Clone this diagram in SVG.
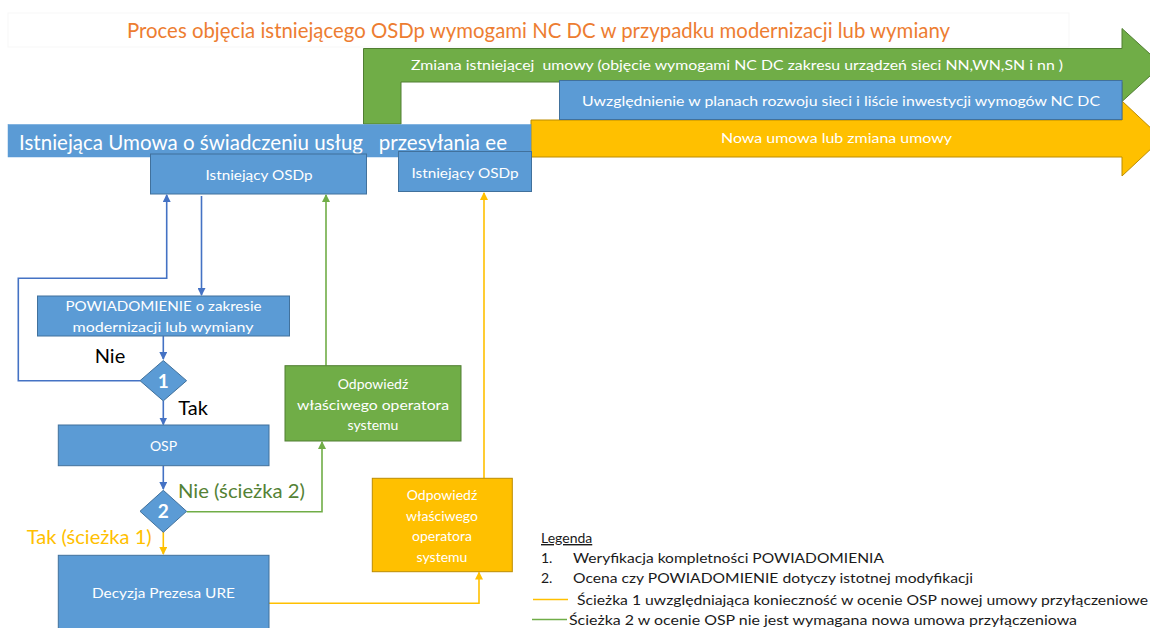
<svg xmlns="http://www.w3.org/2000/svg" width="1150" height="628" viewBox="0 0 1150 628">
<defs>
<style>
text{font-family:Lato,"Open Sans","Liberation Sans",sans-serif;}
.bl{fill:#5B9BD5;stroke:#41719C;stroke-width:1;}
.gr{fill:#70AD47;stroke:#507E32;stroke-width:1;}
.ye{fill:#FFC000;stroke:#BC8C00;stroke-width:1;}
.wt{fill:#FFFFFF;font-size:14px;text-anchor:middle;}
.cb{fill:none;stroke:#4472C4;stroke-width:1.6;}
.cg{fill:none;stroke:#70AD47;stroke-width:1.6;}
.cy{fill:none;stroke:#FFC000;stroke-width:1.6;}
.lg{fill:#1a1a1a;font-size:14px;}
.pre{white-space:pre;}
</style>
<marker id="ab" markerWidth="8" markerHeight="8" refX="7" refY="4" orient="auto" markerUnits="userSpaceOnUse"><path d="M0,0 L8,4 L0,8 z" fill="#4472C4"/></marker>
<marker id="ag" markerWidth="8" markerHeight="8" refX="7" refY="4" orient="auto" markerUnits="userSpaceOnUse"><path d="M0,0 L8,4 L0,8 z" fill="#70AD47"/></marker>
<marker id="ay" markerWidth="8" markerHeight="8" refX="7" refY="4" orient="auto" markerUnits="userSpaceOnUse"><path d="M0,0 L8,4 L0,8 z" fill="#FFC000"/></marker>
</defs>
<rect width="1150" height="628" fill="#FFFFFF"/>

<g id="title">
<rect x="8" y="13" width="1061" height="34" fill="#FFFFFF" stroke="#F7F7F7" stroke-width="1"/>
<text x="127" y="37.5" font-size="21" fill="#ED7D31" textLength="823" lengthAdjust="spacingAndGlyphs">Proces objęcia istniejącego OSDp wymogami NC DC w przypadku modernizacji lub wymiany</text>
</g>

<g id="green-arrow">
<path class="gr" d="M363.5,124 L363.5,48.5 L1122,48.5 L1122,28.5 L1162,65 L1122,101.5 L1122,82 L401,82 L401,124 Z"/>
<text class="wt pre" xml:space="preserve" x="737" y="70" font-size="14.5" textLength="652" lengthAdjust="spacingAndGlyphs">Zmiana istniejącej  umowy (objęcie wymogami NC DC zakresu urządzeń sieci NN,WN,SN i nn )</text>
</g>

<g id="yellow-arrow">
<path class="ye" d="M531,120 L1122,120 L1122,101 L1162,138.5 L1122,176 L1122,157 L531,157 Z"/>
<text class="wt" x="836.5" y="143" font-size="14.5" textLength="231" lengthAdjust="spacingAndGlyphs">Nowa umowa lub zmiana umowy</text>
</g>

<g id="plan-box">
<rect class="bl" x="559.5" y="80.5" width="562.5" height="39"/>
<text class="wt" x="841" y="106" font-size="14.5" textLength="518" lengthAdjust="spacingAndGlyphs">Uwzględnienie w planach rozwoju sieci i liście inwestycji wymogów NC DC</text>
</g>

<g id="contract-bar">
<rect x="8" y="124.5" width="523" height="32.5" fill="#5B9BD5" stroke="#5B9BD5" stroke-width="0.5"/>
<text class="pre" xml:space="preserve" x="19" y="150" font-size="22" fill="#FFFFFF" textLength="488" lengthAdjust="spacingAndGlyphs">Istniejąca Umowa o świadczeniu usług   przesyłania ee</text>
</g>

<g id="osdp1">
<rect class="bl" x="150.5" y="154" width="216" height="40"/>
<text class="wt" x="259" y="179.5" font-size="14.5" textLength="107" lengthAdjust="spacingAndGlyphs">Istniejący OSDp</text>
</g>

<g id="osdp2">
<rect class="bl" x="398.5" y="151.5" width="133" height="40"/>
<text class="wt" x="465" y="177.5" font-size="14.5" textLength="107" lengthAdjust="spacingAndGlyphs">Istniejący OSDp</text>
</g>

<g id="connectors">
<path class="cb" d="M201.5,196 L201.5,295" marker-end="url(#ab)"/>
<path class="cb" d="M163.3,336 L163.3,359" marker-end="url(#ab)"/>
<path class="cb" d="M140,380.7 L18.3,380.7 L18.3,278.3 L166.7,278.3 L166.7,195" marker-end="url(#ab)"/>
<path class="cb" d="M163.3,400.7 L163.3,424.5" marker-end="url(#ab)"/>
<path class="cb" d="M163.3,465.7 L163.3,489" marker-end="url(#ab)"/>
<path class="cg" d="M186.6,511.7 L322,511.7 L322,442" marker-end="url(#ag)"/>
<path class="cg" d="M326,365.7 L326,195" marker-end="url(#ag)"/>
<path class="cy" d="M163.3,532 L163.3,554" marker-end="url(#ay)"/>
<path class="cy" d="M269,603.3 L479,603.3 L479,572.5" marker-end="url(#ay)"/>
<path class="cy" d="M484,478.3 L484,193" marker-end="url(#ay)"/>
</g>

<g id="notification">
<rect class="bl" x="37.5" y="296" width="252" height="40"/>
<text class="wt" x="163.5" y="311" textLength="196" lengthAdjust="spacingAndGlyphs">POWIADOMIENIE o zakresie</text>
<text class="wt" x="163" y="332" textLength="181" lengthAdjust="spacingAndGlyphs">modernizacji lub wymiany</text>
</g>

<g id="decision1">
<path class="bl" d="M163.3,360.5 L186.6,380.7 L163.3,400.9 L140,380.7 Z"/>
<text x="163.3" y="387.5" font-size="19" font-weight="bold" fill="#FFFFFF" text-anchor="middle">1</text>
<text x="110" y="362.5" font-size="20" fill="#000000" text-anchor="middle">Nie</text>
<text x="193" y="415" font-size="20" fill="#000000" text-anchor="middle">Tak</text>
</g>

<g id="osp">
<rect class="bl" x="58.3" y="425" width="210.7" height="40.7"/>
<text class="wt" x="163.5" y="450.5">OSP</text>
</g>

<g id="decision2">
<path class="bl" d="M163.3,490.3 L186.6,511.3 L163.3,532.3 L140,511.3 Z"/>
<text x="163.3" y="518" font-size="19" font-weight="bold" fill="#FFFFFF" text-anchor="middle">2</text>
<text x="178" y="497.5" font-size="20" fill="#548235" textLength="127" lengthAdjust="spacingAndGlyphs">Nie (ścieżka 2)</text>
<text x="26.7" y="543.5" font-size="20" fill="#FFC000" textLength="125" lengthAdjust="spacingAndGlyphs">Tak (ścieżka 1)</text>
</g>

<g id="ure-decision">
<rect class="bl" x="58.3" y="555.3" width="210.7" height="80"/>
<text class="wt" x="163.5" y="598" textLength="143" lengthAdjust="spacingAndGlyphs">Decyzja Prezesa URE</text>
</g>

<g id="green-response">
<rect class="gr" x="285" y="365.7" width="176" height="75.3"/>
<text class="wt" x="373" y="388.5">Odpowiedź</text>
<text class="wt" x="373" y="409.5" textLength="152" lengthAdjust="spacingAndGlyphs">właściwego operatora</text>
<text class="wt" x="373" y="430">systemu</text>
</g>

<g id="yellow-response">
<rect class="ye" x="372.3" y="478.3" width="140" height="93.4"/>
<text class="wt" x="442" y="500">Odpowiedź</text>
<text class="wt" x="442" y="521">właściwego</text>
<text class="wt" x="442" y="541">operatora</text>
<text class="wt" x="442" y="562">systemu</text>
</g>

<g id="legend">
<text class="lg" x="541" y="543" text-decoration="underline">Legenda</text>
<text class="lg" x="541" y="563">1.</text>
<text class="lg" x="573" y="563" textLength="311" lengthAdjust="spacingAndGlyphs">Weryfikacja kompletności POWIADOMIENIA</text>
<text class="lg" x="541" y="583">2.</text>
<text class="lg" x="573" y="583" textLength="400" lengthAdjust="spacingAndGlyphs">Ocena czy POWIADOMIENIE dotyczy istotnej modyfikacji</text>
<line x1="533" y1="599.5" x2="568" y2="599.5" stroke="#FFC000" stroke-width="1.6"/>
<text class="lg" x="577" y="604.5" textLength="571" lengthAdjust="spacingAndGlyphs">Ścieżka 1 uwzględniająca konieczność w ocenie OSP nowej umowy przyłączeniowe</text>
<line x1="532" y1="619.5" x2="567" y2="619.5" stroke="#70AD47" stroke-width="1.6"/>
<text class="lg" x="569" y="624.5" textLength="508" lengthAdjust="spacingAndGlyphs">Ścieżka 2 w ocenie OSP nie jest wymagana nowa umowa przyłączeniowa</text>
</g>
</svg>
